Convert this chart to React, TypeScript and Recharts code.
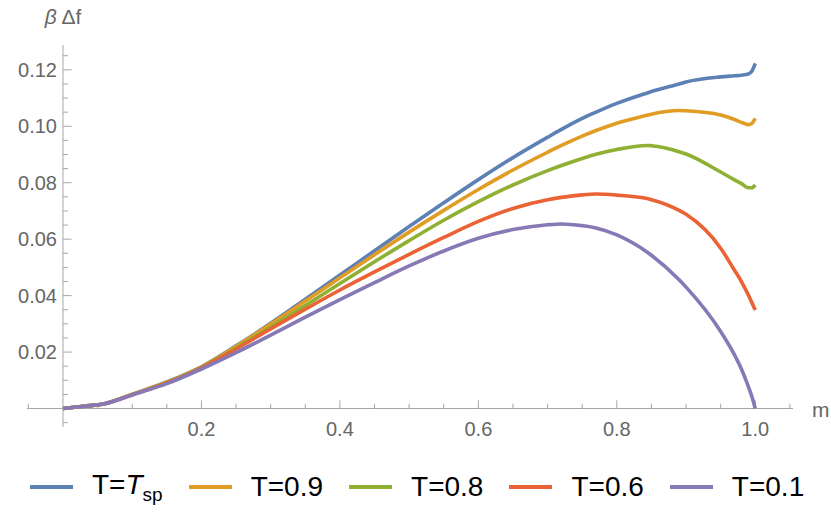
import React from 'react';
import { LineChart, Line, XAxis, YAxis, ReferenceLine, Legend } from 'recharts';

// m values shared by every curve
const mValues = [0, 0.03, 0.06, 0.1, 0.15, 0.2, 0.25, 0.3, 0.35, 0.4, 0.45, 0.5, 0.55, 0.6, 0.65, 0.7, 0.72, 0.75, 0.77, 0.8, 0.845, 0.85, 0.89, 0.9, 0.95, 0.97, 0.98, 0.99, 0.995, 1.0];

// beta * delta f for each temperature
const tspValues = [0, 0.0008, 0.0017, 0.005, 0.0094, 0.0148, 0.0222, 0.0302, 0.0387, 0.0473, 0.0559, 0.0645, 0.0729, 0.0811, 0.0889, 0.0961, 0.0989, 0.1028, 0.105, 0.1081, 0.1119, 0.1123, 0.115, 0.1157, 0.1175, 0.1179, 0.1181, 0.1185, 0.1195, 0.1223];
const t09Values = [0, 0.0008, 0.0017, 0.005, 0.0093, 0.0147, 0.022, 0.0299, 0.0381, 0.0463, 0.0545, 0.0625, 0.0702, 0.0776, 0.0845, 0.0908, 0.0932, 0.0965, 0.0985, 0.1011, 0.104, 0.1043, 0.1056, 0.1055, 0.104, 0.1024, 0.1014, 0.1006, 0.101, 0.1028];
const t08Values = [0, 0.0008, 0.0017, 0.005, 0.0092, 0.0146, 0.0214, 0.0288, 0.0365, 0.0443, 0.052, 0.0595, 0.0667, 0.0733, 0.0792, 0.0843, 0.0861, 0.0886, 0.0901, 0.0918, 0.0932, 0.0931, 0.091, 0.0902, 0.0838, 0.081, 0.0797, 0.0782, 0.0782, 0.0792];
const t06Values = [0, 0.0008, 0.0017, 0.0049, 0.0091, 0.0144, 0.0211, 0.0282, 0.0352, 0.042, 0.0484, 0.0546, 0.0606, 0.0663, 0.0709, 0.074, 0.0748, 0.0757, 0.076, 0.0756, 0.0743, 0.074, 0.0702, 0.0688, 0.0568, 0.049, 0.045, 0.0402, 0.0376, 0.0349];
const t01Values = [0, 0.0008, 0.0017, 0.0048, 0.0088, 0.014, 0.0198, 0.026, 0.0324, 0.0386, 0.0446, 0.0505, 0.0558, 0.0603, 0.0634, 0.0651, 0.0654, 0.0648, 0.064, 0.0615, 0.0552, 0.0543, 0.0456, 0.043, 0.0273, 0.019, 0.014, 0.0078, 0.0043, 0];

const xMajorTicks = [0.2, 0.4, 0.6, 0.8, 1.0];
const xTickLabels = ['0.2', '0.4', '0.6', '0.8', '1.0'];
const xMinorTicks = [-0.05, 0.05, 0.1, 0.15, 0.25, 0.3, 0.35, 0.45, 0.5, 0.55, 0.65, 0.7, 0.75, 0.85, 0.9, 0.95, 1.05];
const yMajorTicks = [0.02, 0.04, 0.06, 0.08, 0.1, 0.12];
const yTickLabels = ['0.02', '0.04', '0.06', '0.08', '0.10', '0.12'];
const yMinorTicks = [-0.005, 0.005, 0.01, 0.015, 0.025, 0.03, 0.035, 0.045, 0.05, 0.055, 0.065, 0.07, 0.075, 0.085, 0.09, 0.095, 0.105, 0.11, 0.115, 0.125];

const data = mValues.map((m, i) => ({
  m,
  tsp: tspValues[i],
  t09: t09Values[i],
  t08: t08Values[i],
  t06: t06Values[i],
  t01: t01Values[i],
}));

const font = '"Liberation Sans", Arial, sans-serif';
const axisColor = '#a6a6a6';
const labelColor = '#666666';

const series = [
  { key: 'tsp', color: '#5E81B5', label: <span>T=<i>T</i><span style={{ fontSize: 19, position: 'relative', top: 7 }}>sp</span></span> },
  { key: 't09', color: '#E19C24', label: <span>T=0.9</span> },
  { key: 't08', color: '#8FB032', label: <span>T=0.8</span> },
  { key: 't06', color: '#EB6235', label: <span>T=0.6</span> },
  { key: 't01', color: '#8778B6', label: <span>T=0.1</span> },
];

// tick lengths in data units (about 8px and 5px)
const xMajorLen = 0.0029;
const xMinorLen = 0.0017;
const yMajorLen = 0.0125;
const yMinorLen = 0.0072;

const XTick = (props: any) => {
  const { x, y, payload } = props;
  const i = xMajorTicks.indexOf(payload.value);
  return (
    <text x={x} y={y + 2} textAnchor="middle" dominantBaseline="central" fill={labelColor} fontSize={20} fontFamily={font}>
      {xTickLabels[i]}
    </text>
  );
};

const YTick = (props: any) => {
  const { x, y, payload } = props;
  const i = yMajorTicks.indexOf(payload.value);
  return (
    <text x={x + 30} y={y} textAnchor="end" dominantBaseline="central" fill={labelColor} fontSize={20} fontFamily={font}>
      {yTickLabels[i]}
    </text>
  );
};

const YTitle = (props: any) => {
  const { viewBox } = props;
  return (
    <text x={viewBox.x} y={viewBox.y - 29} textAnchor="middle" dominantBaseline="central" fill={labelColor} fontSize={21} fontFamily={font}>
      <tspan fontStyle="italic">β</tspan> Δf
    </text>
  );
};

const XTitle = (props: any) => {
  const { viewBox } = props;
  return (
    <text x={viewBox.x + viewBox.width + 19} y={viewBox.y + 1} textAnchor="start" dominantBaseline="central" fill={labelColor} fontSize={21} fontFamily={font}>
      m
    </text>
  );
};

const LegendContent = () => (
  <div style={{ display: 'flex', alignItems: 'center', paddingLeft: 30, fontFamily: font, fontSize: 28, lineHeight: '32px', color: '#000' }}>
    {series.map((s) => (
      <div key={s.key} style={{ display: 'flex', alignItems: 'center', marginRight: 26 }}>
        <span style={{ display: 'inline-block', width: 43, height: 4, background: s.color, marginRight: 19 }} />
        {s.label}
      </div>
    ))}
  </div>
);

export default function App() {
  return (
    <div style={{ position: 'absolute', left: 0, top: 0, width: 831, height: 523, background: '#fff' }}>
      <LineChart width={831} height={523} data={data} margin={{ top: 45, right: 38, bottom: 66, left: 0 }}>
        <XAxis
          type="number"
          dataKey="m"
          domain={[-0.052, 1.0545]}
          allowDataOverflow
          ticks={xMajorTicks}
          axisLine={false}
          tickLine={false}
          tickSize={0}
          tickMargin={0}
          tick={<XTick />}
          interval={0}
        />
        <YAxis
          type="number"
          domain={[-0.00655, 0.1288]}
          allowDataOverflow
          ticks={yMajorTicks}
          width={27}
          axisLine={false}
          tickLine={false}
          tickSize={0}
          tickMargin={0}
          tick={<YTick />}
          interval={0}
        />
        <ReferenceLine y={0} stroke={axisColor} label={<XTitle />} />
        <ReferenceLine x={0} stroke={axisColor} label={<YTitle />} />
        {xMajorTicks.map((t) => (
          <ReferenceLine key={'xM' + t} segment={[{ x: t, y: 0 }, { x: t, y: xMajorLen }]} stroke={axisColor} />
        ))}
        {xMinorTicks.map((t) => (
          <ReferenceLine key={'xm' + t} segment={[{ x: t, y: 0 }, { x: t, y: xMinorLen }]} stroke={axisColor} />
        ))}
        {yMajorTicks.map((t) => (
          <ReferenceLine key={'yM' + t} segment={[{ x: 0, y: t }, { x: yMajorLen, y: t }]} stroke={axisColor} />
        ))}
        {yMinorTicks.map((t) => (
          <ReferenceLine key={'ym' + t} segment={[{ x: 0, y: t }, { x: yMinorLen, y: t }]} stroke={axisColor} />
        ))}
        {series.map((s) => (
          <Line
            key={s.key}
            type="monotone"
            dataKey={s.key}
            stroke={s.color}
            strokeWidth={3.6}
            dot={false}
            activeDot={false}
            isAnimationActive={false}
          />
        ))}
        <Legend
          layout="horizontal"
          verticalAlign="middle"
          align="center"
          content={<LegendContent />}
          wrapperStyle={{ top: 469, left: 0, width: 831 }}
        />
      </LineChart>
    </div>
  );
}
